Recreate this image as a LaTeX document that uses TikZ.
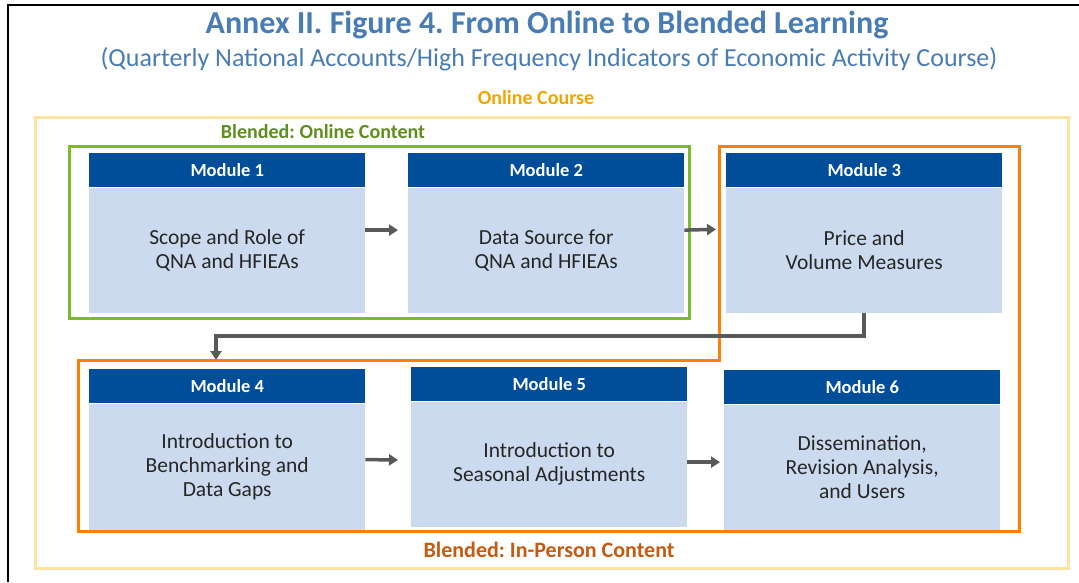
\documentclass[tikz,border=0pt]{standalone}
\usepackage{fontspec}
\setmainfont{Carlito}
\usetikzlibrary{arrows.meta}

\definecolor{titleblue}{RGB}{72,124,180}
\definecolor{hdrblue}{RGB}{0,77,153}
\definecolor{bodyblue}{RGB}{203,218,238}
\definecolor{bodytext}{RGB}{38,38,38}
\definecolor{arrgray}{RGB}{89,89,89}
\definecolor{onlineyellow}{RGB}{255,226,160}
\definecolor{onlinetext}{RGB}{242,166,0}
\definecolor{blendgreen}{RGB}{124,187,46}
\definecolor{blendgreentext}{RGB}{94,142,30}
\definecolor{personorange}{RGB}{255,128,0}
\definecolor{personorangetext}{RGB}{197,90,17}

\tikzset{
  modhead/.style={fill=hdrblue, text=white, font=\bfseries\fontsize{18.5}{22}\selectfont,
    minimum width=276pt, minimum height=34pt, inner sep=0pt, anchor=north west},
  modbody/.style={fill=bodyblue, text=bodytext, font=\fontsize{21.5}{24}\selectfont,
    minimum width=276pt, minimum height=125pt, inner sep=0pt, align=center, anchor=north west},
  flow/.style={draw=arrgray, line width=3.5pt, -{Triangle[length=9pt,width=11pt]}, shorten >=10pt},
  grouplabel/.style={font=\bfseries\fontsize{20}{24}\selectfont}
}

\begin{document}
\frenchspacing
\begin{tikzpicture}[x=1pt,y=-1pt]

	\useasboundingbox (0,0) rectangle (1079,582);

	%Frame
	\draw[line width=2pt, draw=black] (8,582) -- (8,5) -- (1079,5);

	%Title
	\node[text=titleblue, font=\bfseries\fontsize{32}{38}\selectfont] (title) at (547,25) {Annex II. Figure 4. From Online to Blended Learning};
	\node[text=titleblue, font=\fontsize{26}{31}\selectfont] (subtitle) at (549,59) {(Quarterly National Accounts/High Frequency Indicators of Economic Activity Course)};

	%Groups
	\draw[line width=3pt, draw=onlineyellow] (35,117) rectangle (1068,568);
	\node[grouplabel, text=onlinetext] (lblonline) at (536,98) {Online Course};

	\draw[line width=3pt, draw=blendgreen] (69,146) rectangle (689,318);
	\node[grouplabel, text=blendgreentext] (lblblended) at (323,132) {Blended: Online Content};

	\draw[line width=3pt, draw=personorange] (719,146) -- (1019,146) -- (1019,531) -- (78,531) -- (78,360) -- (719,360) -- cycle;
	\node[grouplabel, text=personorangetext, font=\bfseries\fontsize{22}{26}\selectfont] (lblperson) at (549,550) {Blended: In-Person Content};

	%Modules
	%M1
	\node[modhead] (m1h) at (89,153) {Module 1};
	\node[modbody] (m1) at (m1h.south west) {Scope and Role of\\QNA and HFIEAs};

	%M2
	\node[modhead] (m2h) at (408,153) {Module 2};
	\node[modbody] (m2) at (m2h.south west) {Data Source for\\QNA and HFIEAs};

	%M3
	\node[modhead] (m3h) at (726,153) {Module 3};
	\node[modbody] (m3) at (m3h.south west) {Price and\\Volume Measures};

	%M4
	\node[modhead] (m4h) at (89,369) {Module 4};
	\node[modbody, minimum height=126pt] (m4) at (m4h.south west) {Introduction to\\Benchmarking and\\Data Gaps};

	%M5
	\node[modhead] (m5h) at (411,367) {Module 5};
	\node[modbody] (m5) at (m5h.south west) {Introduction to\\Seasonal Adjustments};

	%M6
	\node[modhead] (m6h) at (724,370) {Module 6};
	\node[modbody] (m6) at (m6h.south west) {Dissemination,\\Revision Analysis,\\and Users};

	%Flow
	\draw[flow] ([yshift=20pt]m1.east) -- ([yshift=20pt]m2.west);
	\draw[flow] ([yshift=20pt]m2.east) -- ([yshift=21pt]m3.west);
	\coordinate (bend) at (216,336);
	\coordinate (m4in) at (216,360);
	\draw[flow, shorten >=0pt] (m3.south) |- (bend) -- (m4in);
	\draw[flow, shorten >=13pt] ([yshift=7pt]m4.east) -- ([yshift=4pt]m5.west);
	\draw[flow, shorten >=4pt] ([yshift=2pt]m5.east) -- ([yshift=5pt]m6.west);

\end{tikzpicture}
\end{document}
